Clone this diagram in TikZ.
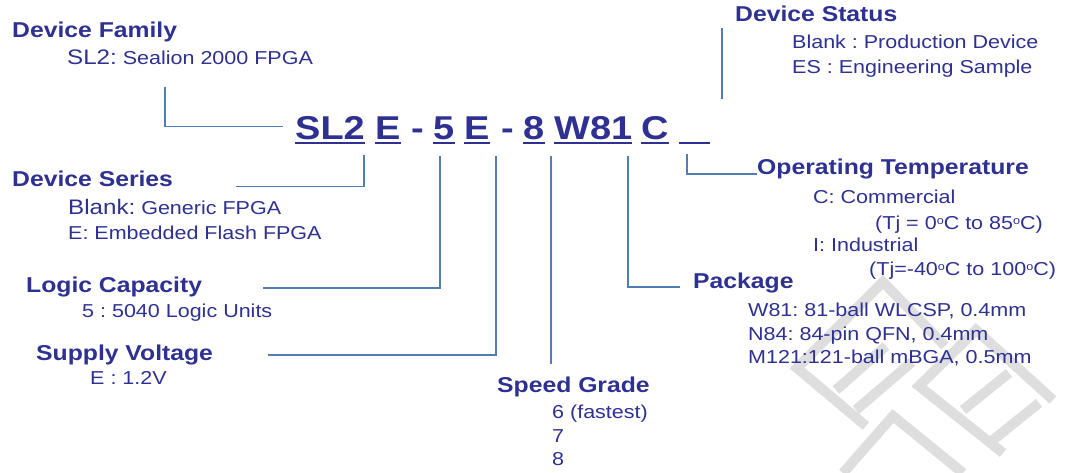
\documentclass[tikz,border=0pt]{standalone}
\usepackage{fontspec}
\setmainfont[FakeStretch=1.15]{Liberation Sans}
\frenchspacing
\definecolor{txt}{RGB}{46,49,146}
\definecolor{ln}{RGB}{79,125,180}
\definecolor{wm}{RGB}{222,222,222}
\newcommand{\dgo}{\raisebox{5.5pt}{\fontsize{11}{11}\selectfont o}}
\tikzset{
 title/.style={anchor=base west, inner sep=0pt, text=txt, font=\fontsize{21.5}{24}\selectfont\bfseries},
 body/.style={anchor=base west, inner sep=0pt, text=txt, font=\fontsize{18.7}{22}\selectfont},
 pn/.style={anchor=base west, inner sep=0pt, text=txt, font=\fontsize{33}{36}\selectfont\bfseries},
 conn/.style={draw=ln, line width=1.4pt},
 uline/.style={draw=txt, line width=2pt},
 wmark/.style={draw=wm, line width=10pt, line join=miter},
}
\begin{document}
\begin{tikzpicture}[x=1pt,y=-1pt]
\useasboundingbox[fill=white] (0,0) rectangle (1066,473);
% watermark
\draw[wmark] (866,426) -- (797,368) -- (883,282) -- (945,346);
\draw[wmark] (836,390) -- (886,346);
\draw[wmark] (856,410) -- (912,362);
\draw[wmark] (1003,453) -- (919,386) -- (976,330) -- (1053,400);
\draw[wmark] (963,410) -- (1009,373);
\draw[wmark] (993,440) -- (1039,403);
\draw[wmark] (843,473) -- (893,416) -- (963,473);
% part number
\node[pn] (sl2) at (295,140) {SL2};
\node[pn] (ser) at (375,140) {E};
\node[pn] (d1) at (411,140) {-};
\node[pn] (cap) at (433,140) {5};
\node[pn] (vol) at (464,140) {E};
\node[pn] (d2) at (501,140) {-};
\node[pn] (spd) at (523,140) {8};
\node[pn] (pkg) at (554,140) {W81};
\node[pn] (tmp) at (641,140) {C};
\coordinate (blL) at (679,143.5);
\coordinate (blR) at (710,143.5);
\foreach \n in {sl2,ser,cap,vol,spd,pkg,tmp}
  \draw[uline] ([yshift=-3.5pt]\n.base west) -- ([yshift=-3.5pt]\n.base east);
\draw[uline] (blL) -- (blR);
% Device Family
\node[title] (famT) at (12,37.3) {Device Family};
\node[body] (famB) at (67,64.3) {{\fontsize{21}{24}\selectfont SL2:} Sealion 2000 FPGA};
% Device Series
\node[title] (serT) at (12,187) {Device Series};
\node[body] (serB1) at (68,214.3) {{\fontsize{21}{24}\selectfont Blank:} Generic FPGA};
\node[body] (serB2) at (68,240) {E: Embedded Flash FPGA};
% Logic Capacity
\node[title] (capT) at (26,292.3) {Logic Capacity};
\node[body] (capB) at (82,317.3) {5 : 5040 Logic Units};
% Supply Voltage
\node[title] (volT) at (36,360) {Supply Voltage};
\node[body] (volB) at (90,384.5) {E : 1.2V};
% Speed Grade
\node[title] (spdT) at (497,392) {Speed Grade};
\node[body] (spdB1) at (552,418) {6 (fastest)};
\node[body] (spdB2) at (552,442) {7};
\node[body] (spdB3) at (552,465.5) {8};
% Package
\node[title] (pkgT) at (693,288.3) {Package};
\node[body] (pkgB1) at (748,316.7) {W81: 81-ball WLCSP, 0.4mm};
\node[body] (pkgB2) at (748,340) {N84: 84-pin QFN, 0.4mm};
\node[body] (pkgB3) at (748,363.3) {M121:121-ball mBGA, 0.5mm};
% Operating Temperature
\node[title] (tmpT) at (757,174.5) {Operating Temperature};
\node[body] (tmpB1) at (813,203.3) {C: Commercial};
\node[body] (tmpB2) at (875,229.5) {(Tj = 0\dgo C to 85\dgo C)};
\node[body] (tmpB3) at (813,251.7) {I: Industrial};
\node[body] (tmpB4) at (869,276) {(Tj=-40\dgo C to 100\dgo C)};
% Device Status
\node[title] (staT) at (735,21.7) {Device Status};
\node[body] (staB1) at (792,48.3) {Blank : Production Device};
\node[body] (staB2) at (792,73.8) {ES : Engineering Sample};
% connectors
\coordinate (famA) at (165,87);
\coordinate (famB) at (283,126.5);
\coordinate (serA) at (364,155);
\coordinate (serB) at (236,186.5);
\coordinate (capA) at (440,156);
\coordinate (capE) at (263,288);
\coordinate (volA) at (496,156);
\coordinate (volE) at (268,355);
\coordinate (spdA) at (551,156);
\coordinate (spdE) at (551,364);
\coordinate (pkgA) at (628,156);
\coordinate (pkgE) at (680,287);
\coordinate (tmpA) at (687,154);
\coordinate (tmpE) at (757,174);
\coordinate (staA) at (722,28);
\coordinate (staE) at (722,99);
\draw[conn] (famA) |- (famB);
\draw[conn] (serA) |- (serB);
\draw[conn] (capA) |- (capE);
\draw[conn] (volA) |- (volE);
\draw[conn] (spdA) -- (spdE);
\draw[conn] (pkgA) |- (pkgE);
\draw[conn] (tmpA) |- (tmpE);
\draw[conn] (staA) -- (staE);
\end{tikzpicture}
\end{document}
